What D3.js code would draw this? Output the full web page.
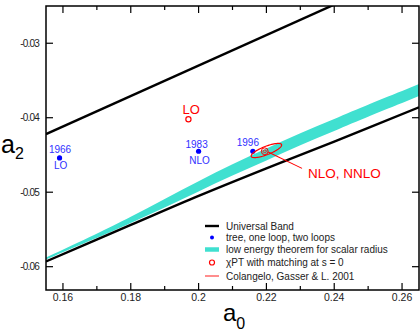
<!DOCTYPE html>
<html>
<head>
<meta charset="utf-8">
<script src="https://cdn.jsdelivr.net/npm/d3@7"></script>
<style>
  body { margin: 0; background: #fff; }
  svg { display: block; font-family: "Liberation Sans", Arial, Helvetica, sans-serif; }
</style>
</head>
<body>
<svg id="chart" width="420" height="330"></svg>
<script>
// universal band boundaries (straight lines)
var upperLineA0 = [0.155, 0.265];
var upperLineA2 = [-0.0422, -0.0197];
var lowerLineA0 = [0.155, 0.18, 0.20, 0.22, 0.24, 0.265];
var lowerLineA2 = [-0.0593, -0.0544, -0.0505, -0.0468, -0.0432, -0.0386];

// low energy theorem for scalar radius (turquoise band)
var bandA0 = [0.155, 0.17, 0.18, 0.19, 0.20, 0.21, 0.22, 0.23, 0.24, 0.25, 0.265];
var bandHi = [-0.05877, -0.05561, -0.05333, -0.05091, -0.04849, -0.04621, -0.04413, -0.04205, -0.04017, -0.03822, -0.03547];
var bandLo = [-0.05903, -0.05615, -0.05413, -0.05205, -0.0499, -0.04775, -0.04574, -0.04366, -0.04178, -0.03983, -0.03708];

// tree, one loop, two loops
var loopYears = ["1966", "1983", "1996"];
var loopOrders = ["LO", "NLO", ""];
var loopA0 = [0.159, 0.200, 0.216];
var loopA2 = [-0.0454, -0.0445, -0.0445];

// chiPT with matching at s = 0 (LO) and CGL 2001 ellipse
var matchA0 = 0.197, matchA2 = -0.0402;
var cglA0 = 0.2200, cglA2 = -0.0444;
var cglInnerA0 = 0.2195, cglInnerA2 = -0.0445;
// ellipse half axes in data units: a0 swing, a2 swing along cos, a2 swing along sin
var cglRa0 = 0.0045, cglRa2c = 0.00074, cglRa2s = 0.00060;
var pointerA0 = [0.2205, 0.2305];
var pointerA2 = [-0.0446, -0.0468];

var xTicks = [0.16, 0.18, 0.20, 0.22, 0.24, 0.26];
var xTickLabels = ["0.16", "0.18", "0.2", "0.22", "0.24", "0.26"];
var xMinor = [0.17, 0.19, 0.21, 0.23, 0.25];
var yTicks = [-0.03, -0.04, -0.05, -0.06];
var yTickLabels = ["-0.03", "-0.04", "-0.05", "-0.06"];

var legendLabels = ["Universal Band", "tree, one loop, two loops", "low energy theorem for scalar radius",
                    "\u03c7PT with matching at s = 0", "Colangelo, Gasser & L. 2001"];

var svg = d3.select("#chart");
var pLeft = 46, pRight = 419, pTop = 6, pBottom = 290;

var x = d3.scaleLinear().domain([0.155, 0.265]).range([pLeft, pRight]);
var y = d3.scaleLinear().domain([-0.06313, -0.025]).range([pBottom, pTop]);

svg.append("clipPath").attr("id", "plotclip")
    .append("rect").attr("x", pLeft).attr("y", pTop)
    .attr("width", pRight - pLeft).attr("height", pBottom - pTop);

var plot = svg.append("g").attr("clip-path", "url(#plotclip)");

// turquoise band
var band = d3.area()
    .x(function (d) { return x(d[0]); })
    .y0(function (d) { return y(d[1]); })
    .y1(function (d) { return y(d[2]); })
    .curve(d3.curveBasis);
plot.append("path")
    .datum(bandA0.map(function (a, i) { return [a, bandLo[i], bandHi[i]]; }))
    .attr("d", band)
    .attr("fill", "#40e0d0");

var line = d3.line()
    .x(function (d) { return x(d[0]); })
    .y(function (d) { return y(d[1]); });

plot.append("path")
    .datum(upperLineA0.map(function (a, i) { return [a, upperLineA2[i]]; }))
    .attr("d", line).attr("fill", "none").attr("stroke", "#000").attr("stroke-width", 2.4);
plot.append("path")
    .datum(lowerLineA0.map(function (a, i) { return [a, lowerLineA2[i]]; }))
    .attr("d", line.curve(d3.curveCatmullRom)).attr("fill", "none").attr("stroke", "#000").attr("stroke-width", 2.4);

// blue loop points + labels
var yearDx = [0.5, -2, -5], yearDy = [-4.7, -3.5, -5];
var orderDy = [10.7, 12.3, 0];
loopA0.forEach(function (a, i) {
    var px = x(a), py = y(loopA2[i]);
    svg.append("circle").attr("cx", px).attr("cy", py).attr("r", 2.6).attr("fill", "#0000ff");
    svg.append("text").attr("x", px + yearDx[i]).attr("y", py + yearDy[i])
        .attr("text-anchor", "middle").attr("font-size", 10).attr("fill", "#3030ff")
        .text(loopYears[i]);
    if (loopOrders[i]) {
        svg.append("text").attr("x", px + 1).attr("y", py + orderDy[i])
            .attr("text-anchor", "middle").attr("font-size", 10).attr("fill", "#3030ff")
            .text(loopOrders[i]);
    }
});

// red LO point
svg.append("circle").attr("cx", x(matchA0)).attr("cy", y(matchA2)).attr("r", 2.6)
    .attr("fill", "none").attr("stroke", "#ff0000").attr("stroke-width", 1.2);
svg.append("text").attr("x", x(matchA0) - 6).attr("y", y(matchA2) - 5.7)
    .attr("font-size", 13).attr("fill", "#ff0000").text("LO");

// CGL ellipse
var ellipsePts = d3.range(0, 361, 5).map(function (deg) {
    var t = deg * Math.PI / 180;
    return [cglA0 + cglRa0 * Math.cos(t), cglA2 + cglRa2c * Math.cos(t) + cglRa2s * Math.sin(t)];
});
svg.append("path").datum(ellipsePts)
    .attr("d", d3.line().x(function (d) { return x(d[0]); }).y(function (d) { return y(d[1]); }))
    .attr("fill", "none").attr("stroke", "#ff0000").attr("stroke-width", 1.2);
svg.append("circle").attr("cx", x(cglInnerA0)).attr("cy", y(cglInnerA2)).attr("r", 3.4)
    .attr("fill", "none").attr("stroke", "#ff0000").attr("stroke-width", 1);
svg.append("ellipse").attr("cx", x(cglInnerA0)).attr("cy", y(cglInnerA2)).attr("rx", 1.8).attr("ry", 1.2)
    .attr("fill", "none").attr("stroke", "#ff0000").attr("stroke-width", 0.8);

svg.append("path")
    .datum(pointerA0.map(function (a, i) { return [a, pointerA2[i]]; }))
    .attr("d", d3.line().x(function (d) { return x(d[0]); }).y(function (d) { return y(d[1]); }))
    .attr("stroke", "#ff0000").attr("stroke-width", 1.1).attr("fill", "none");
svg.append("text").attr("x", x(pointerA0[1]) + 6).attr("y", y(pointerA2[1]) + 9.5)
    .attr("font-size", 13.5).attr("fill", "#ff0000").text("NLO, NNLO");

// frame + ticks
svg.append("rect").attr("x", pLeft).attr("y", pTop).attr("width", pRight - pLeft).attr("height", pBottom - pTop)
    .attr("fill", "none").attr("stroke", "#000").attr("stroke-width", 1.5);

var ticks = svg.append("g").attr("stroke", "#000").attr("stroke-width", 1.2);
xTicks.forEach(function (v) {
    ticks.append("line").attr("x1", x(v)).attr("x2", x(v)).attr("y1", pBottom).attr("y2", pBottom - 7);
    ticks.append("line").attr("x1", x(v)).attr("x2", x(v)).attr("y1", pTop).attr("y2", pTop + 7);
});
xMinor.forEach(function (v) {
    ticks.append("line").attr("x1", x(v)).attr("x2", x(v)).attr("y1", pBottom).attr("y2", pBottom - 4);
    ticks.append("line").attr("x1", x(v)).attr("x2", x(v)).attr("y1", pTop).attr("y2", pTop + 4);
});
yTicks.forEach(function (v) {
    ticks.append("line").attr("x1", pLeft).attr("x2", pLeft + 7).attr("y1", y(v)).attr("y2", y(v));
    ticks.append("line").attr("x1", pRight).attr("x2", pRight - 7).attr("y1", y(v)).attr("y2", y(v));
});

xTicks.forEach(function (v, i) {
    svg.append("text").attr("x", x(v)).attr("y", pBottom + 11).attr("text-anchor", "middle")
        .attr("font-size", 10.5).attr("fill", "#222").text(xTickLabels[i]);
});
yTicks.forEach(function (v, i) {
    svg.append("text").attr("x", pLeft - 7).attr("y", y(v) + 3.5).attr("text-anchor", "end")
        .attr("font-size", 10).attr("letter-spacing", -0.8).attr("fill", "#222").text(yTickLabels[i]);
});

// axis titles
var yTitle = svg.append("text").attr("x", 1).attr("y", 153.3).attr("font-size", 25).attr("fill", "#000");
yTitle.append("tspan").text("a");
yTitle.append("tspan").attr("font-size", 16).attr("dy", 6).text("2");
var xTitle = svg.append("text").attr("x", 223).attr("y", 321).attr("font-size", 24).attr("fill", "#000");
xTitle.append("tspan").text("a");
xTitle.append("tspan").attr("font-size", 16).attr("dy", 8).text("0");

// legend
var legY = [226, 237.5, 249.5, 262.5, 276];
var lx0 = 205, lx1 = 219, ltx = 226;
var leg = svg.append("g");
leg.append("line").attr("x1", lx0).attr("x2", lx1).attr("y1", legY[0]).attr("y2", legY[0])
    .attr("stroke", "#000").attr("stroke-width", 2.4);
leg.append("circle").attr("cx", (lx0 + lx1) / 2).attr("cy", legY[1]).attr("r", 2).attr("fill", "#0000ff");
leg.append("line").attr("x1", lx0).attr("x2", lx1).attr("y1", legY[2]).attr("y2", legY[2])
    .attr("stroke", "#40e0d0").attr("stroke-width", 4.5);
leg.append("circle").attr("cx", (lx0 + lx1) / 2).attr("cy", legY[3]).attr("r", 2.5)
    .attr("fill", "none").attr("stroke", "#ff0000").attr("stroke-width", 1.2);
leg.append("line").attr("x1", lx0).attr("x2", lx1).attr("y1", legY[4]).attr("y2", legY[4])
    .attr("stroke", "#ff3030").attr("stroke-width", 1.1);
legendLabels.forEach(function (t, i) {
    leg.append("text").attr("x", ltx).attr("y", legY[i] + 3.5).attr("font-size", 10)
        .attr("fill", "#222").text(t);
});
</script>
</body>
</html>
